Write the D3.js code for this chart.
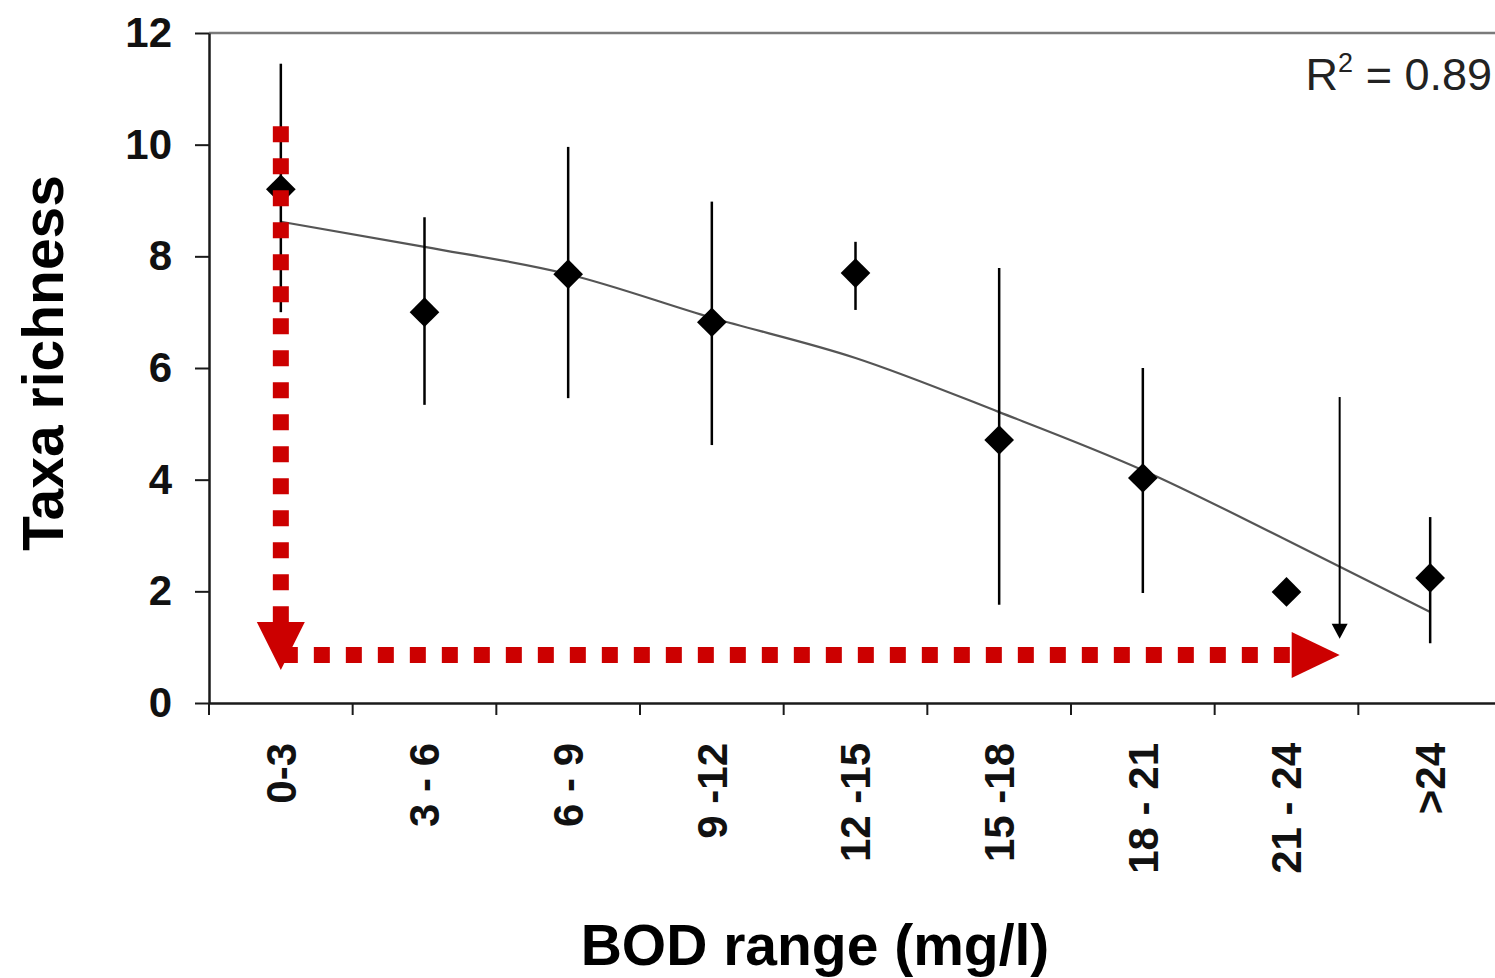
<!DOCTYPE html>
<html>
<head>
    <meta charset='utf-8' />
    <title>Taxa richness vs BOD range</title>
    <script src="https://cdn.jsdelivr.net/npm/d3@7"></script>
    <style>
        body {
            margin: 0;
            padding: 0;
            background: #fff;
        }

        svg {
            display: block;
        }

        text {
            font-family: "Liberation Sans", Arial, sans-serif;
        }
    </style>
</head>
<body>
    <div id="chart"></div>
    <script>
        var categories = ["0-3", "3 - 6", "6 - 9", "9 -12", "12 -15", "15 -18", "18 - 21", "21 - 24", ">24"];
        var means = [9.2, 7.0, 7.68, 6.82, 7.7, 4.71, 4.03, 1.99, 2.24];
        var errTop = [11.45, 8.7, 9.96, 8.98, 8.26, 7.79, 6.0, null, 3.33];
        var errBottom = [7.0, 5.34, 5.46, 4.62, 7.04, 1.76, 1.97, null, 1.07];
        var fitted = [8.62, 8.17, 7.68, 6.9, 6.18, 5.21, 4.17, 2.92, 1.63];
        var yTicks = [0, 2, 4, 6, 8, 10, 12];
        var rSquared = "0.89";

        // annotation arrows, positions in category index and taxa units
        var redDown = { pos: 0, from: 10.33, to: 0.59 };
        var redRight = { value: 0.86, from: 0, to: 7.37 };
        var blackDown = { pos: 7.37, from: 5.48, to: 1.15 };

        var width = 1495, height = 978;
        var red = "#cc0000";

        var svg = d3.select("#chart").append("svg")
            .attr("width", width)
            .attr("height", height);

        var x = d3.scaleBand().domain(categories).range([209, 1502]);
        var y = d3.scaleLinear().domain([0, 12]).range([703, 33]);

        function px(i) {
            return x(categories[0]) + x.bandwidth() / 2 + i * x.step();
        }

        // top frame line
        svg.append("line")
            .attr("x1", 209).attr("x2", 1502)
            .attr("y1", y(12)).attr("y2", y(12))
            .attr("stroke", "#7a7a7a").attr("stroke-width", 2.5);

        // y axis
        var yAxis = svg.append("g")
            .attr("transform", "translate(209,0)")
            .call(d3.axisLeft(y).tickValues(yTicks).tickSize(14).tickPadding(23).tickSizeOuter(0));
        yAxis.select(".domain").attr("stroke", "#1a1a1a").attr("stroke-width", 2.5);
        yAxis.selectAll(".tick line").attr("stroke", "#1a1a1a").attr("stroke-width", 2);
        yAxis.selectAll(".tick text")
            .attr("font-family", "'Liberation Sans', Arial, sans-serif")
            .attr("font-size", 42)
            .attr("font-weight", "bold")
            .attr("fill", "#111");

        // x axis with labels at band centres
        var xAxis = svg.append("g")
            .attr("transform", "translate(0," + y(0) + ")")
            .call(d3.axisBottom(x).tickSize(0).tickSizeOuter(0).tickPadding(0));
        xAxis.select(".domain").attr("stroke", "#1a1a1a").attr("stroke-width", 2.5);
        xAxis.selectAll(".tick text")
            .attr("font-family", "'Liberation Sans', Arial, sans-serif")
            .attr("font-size", 42)
            .attr("font-weight", "bold")
            .attr("fill", "#111")
            .attr("text-anchor", "end")
            .attr("transform", "rotate(-90)")
            .attr("x", -40)
            .attr("y", 0)
            .attr("dy", "0.35em");

        // boundary ticks between categories
        svg.append("g").selectAll("line")
            .data(categories)
            .enter().append("line")
            .attr("x1", function (d) { return x(d); })
            .attr("x2", function (d) { return x(d); })
            .attr("y1", y(0))
            .attr("y2", y(0) + 12)
            .attr("stroke", "#1a1a1a")
            .attr("stroke-width", 2);

        // fitted curve
        var line = d3.line()
            .x(function (d, i) { return px(i); })
            .y(function (d) { return y(d); })
            .curve(d3.curveMonotoneX);
        svg.append("path")
            .datum(fitted)
            .attr("d", line)
            .attr("fill", "none")
            .attr("stroke", "#555")
            .attr("stroke-width", 2.2);

        // error bars
        svg.append("g").selectAll("line")
            .data(categories.filter(function (d, i) { return errTop[i] != null; }))
            .enter().append("line")
            .attr("x1", function (d) { return x(d) + x.bandwidth() / 2; })
            .attr("x2", function (d) { return x(d) + x.bandwidth() / 2; })
            .attr("y1", function (d) { return y(errTop[categories.indexOf(d)]); })
            .attr("y2", function (d) { return y(errBottom[categories.indexOf(d)]); })
            .attr("stroke", "#000")
            .attr("stroke-width", 2.5);

        // diamonds
        svg.append("g").selectAll("path")
            .data(means)
            .enter().append("path")
            .attr("d", d3.symbol(d3.symbolSquare, 440))
            .attr("transform", function (d, i) {
                return "translate(" + px(i) + "," + y(d) + ") rotate(45)";
            })
            .attr("fill", "#000");

        // red dotted arrow down
        var head = 48, half = 24;
        var vx = px(redDown.pos), vTip = y(redDown.to);
        svg.append("line")
            .attr("x1", vx).attr("x2", vx)
            .attr("y1", y(redDown.from)).attr("y2", vTip - head)
            .attr("stroke", red).attr("stroke-width", 16)
            .attr("stroke-dasharray", "16 16");
        var p = d3.path();
        p.moveTo(vx - half, vTip - head);
        p.lineTo(vx + half, vTip - head);
        p.lineTo(vx, vTip);
        p.closePath();
        svg.append("path").attr("d", p.toString()).attr("fill", red);

        // red dotted arrow right
        var hy = y(redRight.value), hTip = px(redRight.to);
        svg.append("line")
            .attr("x1", px(redRight.from) + 1).attr("x2", hTip - head)
            .attr("y1", hy).attr("y2", hy)
            .attr("stroke", red).attr("stroke-width", 16)
            .attr("stroke-dasharray", "16 16");
        var p2 = d3.path();
        p2.moveTo(hTip - head, hy - 23);
        p2.lineTo(hTip - head, hy + 23);
        p2.lineTo(hTip, hy);
        p2.closePath();
        svg.append("path").attr("d", p2.toString()).attr("fill", red);

        // thin black arrow
        var bx = px(blackDown.pos), bTip = y(blackDown.to);
        svg.append("line")
            .attr("x1", bx).attr("x2", bx)
            .attr("y1", y(blackDown.from)).attr("y2", bTip - 10)
            .attr("stroke", "#000").attr("stroke-width", 2);
        var p3 = d3.path();
        p3.moveTo(bx - 8, bTip - 15);
        p3.lineTo(bx + 8, bTip - 15);
        p3.lineTo(bx, bTip);
        p3.closePath();
        svg.append("path").attr("d", p3.toString()).attr("fill", "#000");

        // R squared label
        var r2 = svg.append("text")
            .attr("x", 1492)
            .attr("y", 90)
            .attr("text-anchor", "end")
            .attr("font-size", 45)
            .attr("fill", "#222");
        r2.append("tspan").text("R");
        r2.append("tspan").attr("font-size", 27).attr("dy", -18).text("2");
        r2.append("tspan").attr("dy", 18).text(" = " + rSquared);

        // axis titles
        svg.append("text")
            .attr("transform", "translate(63,363) rotate(-90)")
            .attr("text-anchor", "middle")
            .attr("font-size", 57)
            .attr("font-weight", "bold")
            .attr("fill", "#000")
            .text("Taxa richness");

        svg.append("text")
            .attr("x", 815)
            .attr("y", 965)
            .attr("text-anchor", "middle")
            .attr("font-size", 57)
            .attr("font-weight", "bold")
            .attr("fill", "#000")
            .text("BOD range (mg/l)");
    </script>
</body>
</html>
